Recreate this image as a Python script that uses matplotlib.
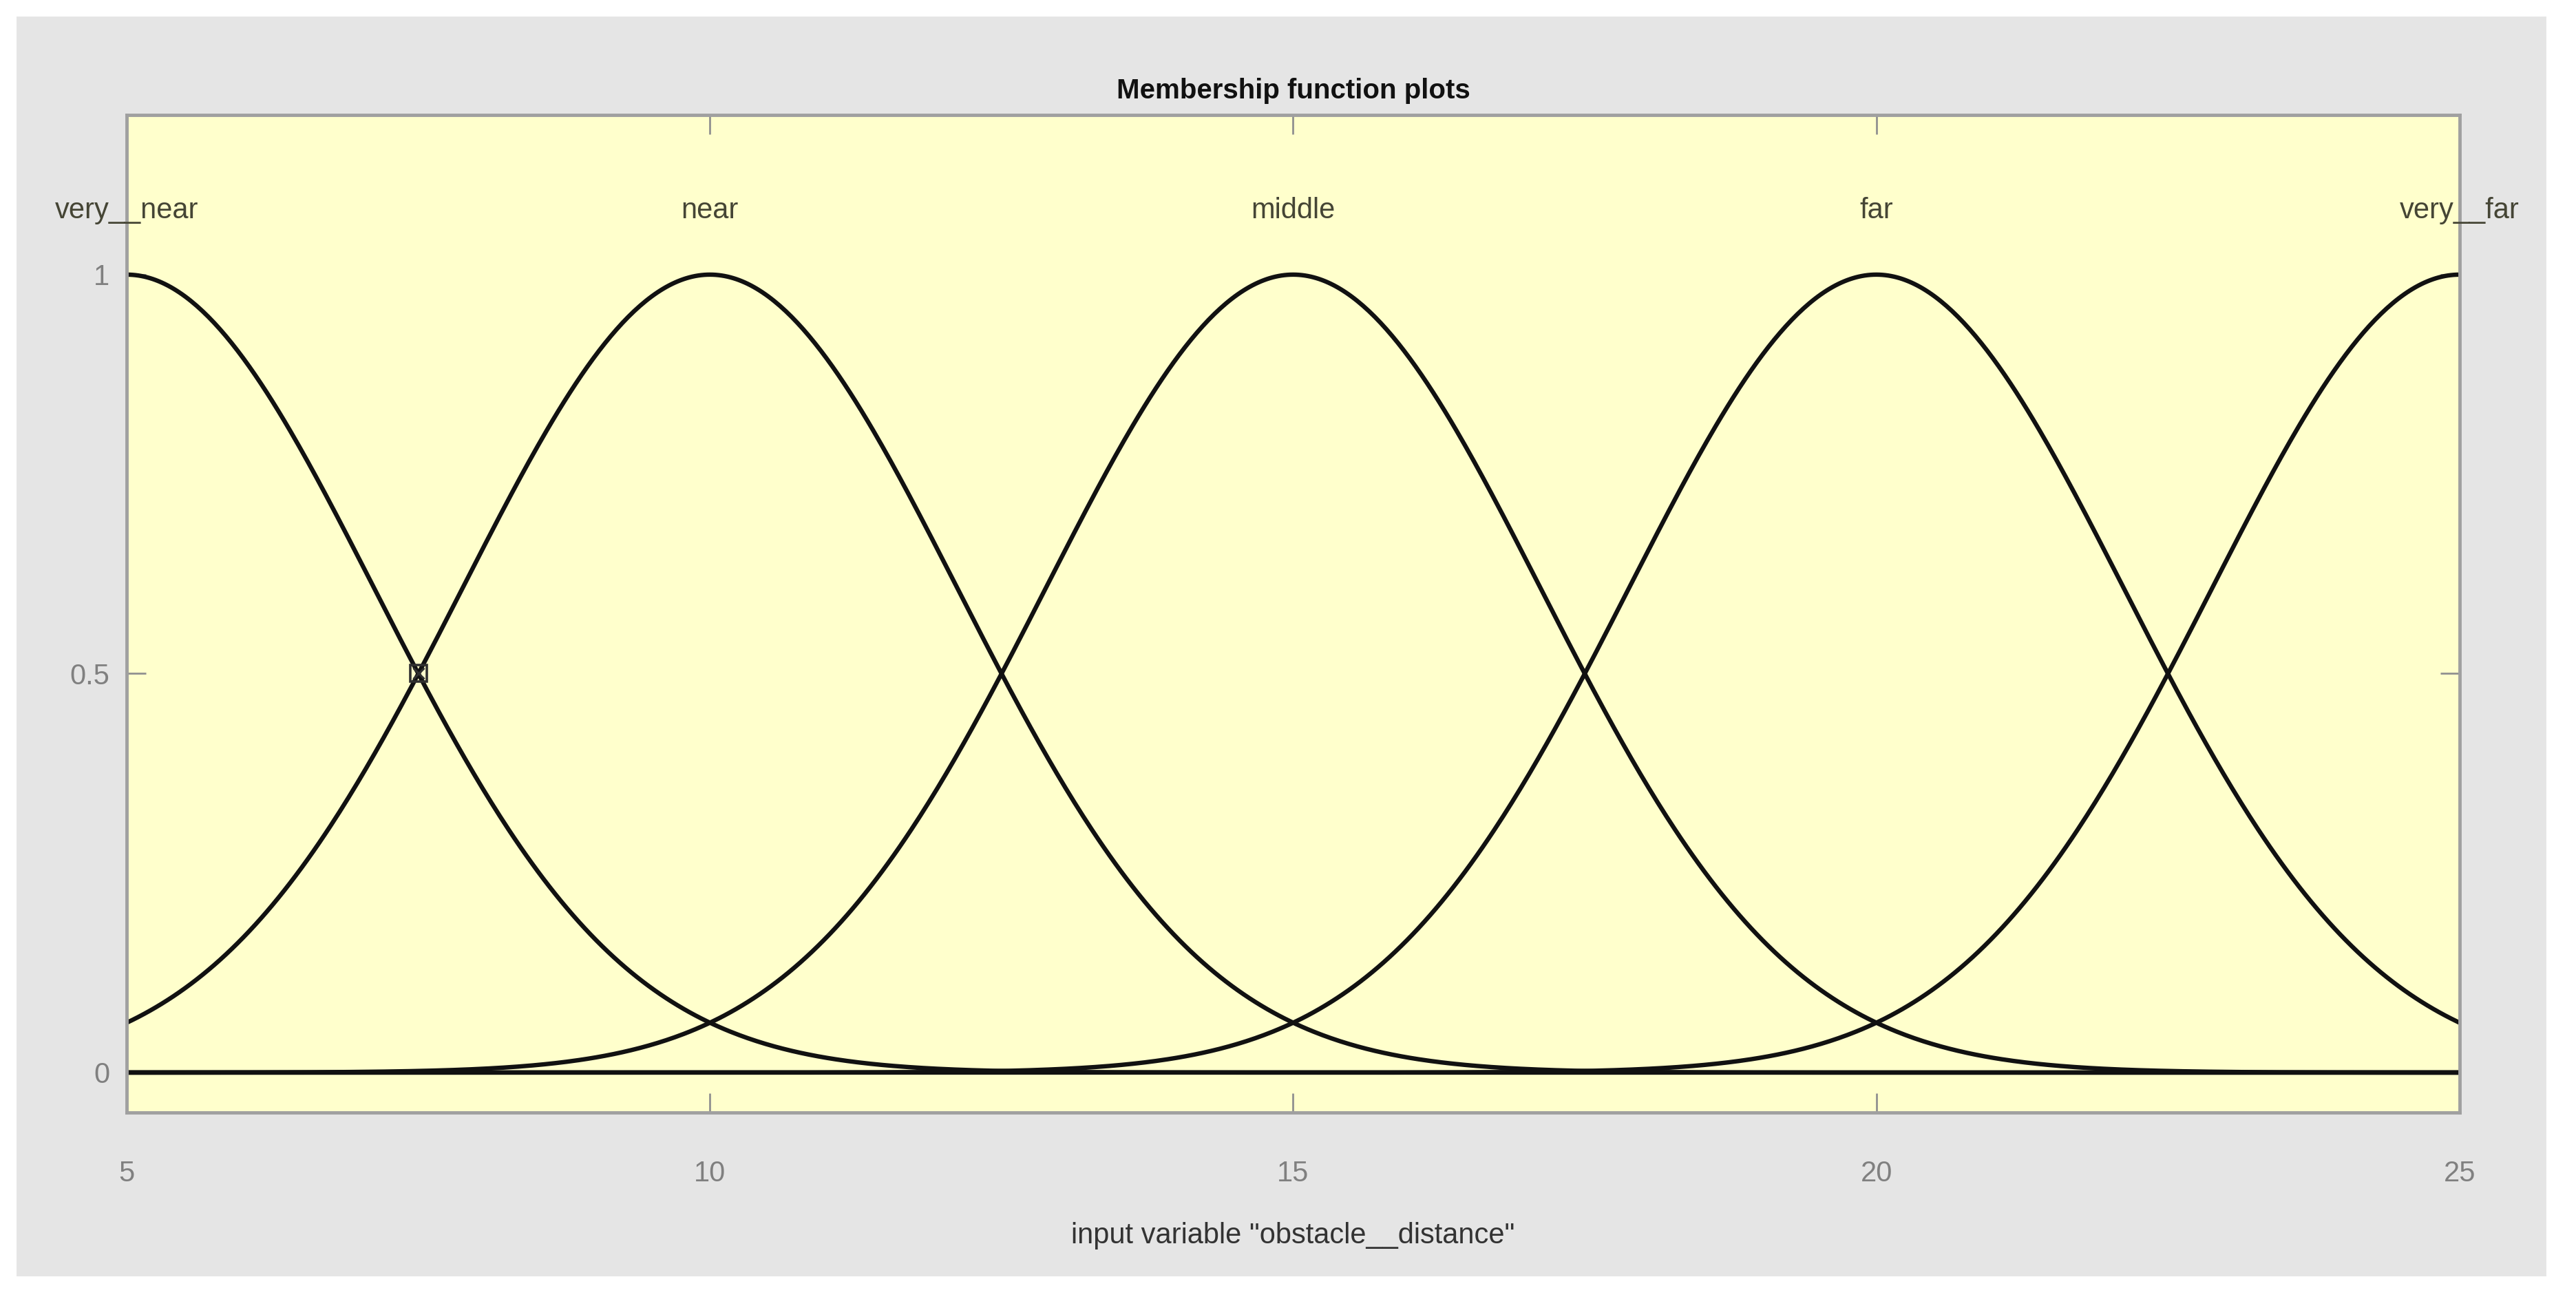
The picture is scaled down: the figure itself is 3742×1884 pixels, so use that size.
import numpy as np
import matplotlib
matplotlib.use("Agg")
import matplotlib.pyplot as plt
from matplotlib.patches import Rectangle

# membership functions (gaussmf): name, sigma, center
mf_names = ["very__near", "near", "middle", "far", "very__far"]
mf_centers = [5, 10, 15, 20, 25]
mf_sigmas = [2.123, 2.123, 2.123, 2.123, 2.123]

x_range = (5, 25)
x_ticks = [5, 10, 15, 20, 25]
y_ticks = [0, 0.5, 1]
y_ticklabels = ["0", "0.5", "1"]

# highlighted point (selected crossing)
sel_x = [7.5]
sel_y = [0.5]

plt.rcParams["font.family"] = ["Liberation Sans", "DejaVu Sans"]


def gaussmf(x, sigma, c):
    return np.exp(-(x - c) ** 2 / (2 * sigma ** 2))


fig = plt.figure(figsize=(37.42, 18.84), dpi=100, facecolor="white")
bg = Rectangle((0.0064, 0.016), 0.9821, 0.9713, transform=fig.transFigure,
               facecolor="#e5e5e5", edgecolor="none", zorder=-10)
fig.add_artist(bg)

ax = fig.add_axes([0.0492, 0.1423, 0.9056, 0.769])
ax.set_facecolor("#ffffcc")

xs = np.linspace(x_range[0], x_range[1], 801)
for name, c, s in zip(mf_names, mf_centers, mf_sigmas):
    ax.plot(xs, gaussmf(xs, s, c), color="#111111", lw=4.6, solid_capstyle="butt", clip_on=False)
    ax.text(c, 1.08, name, ha="center", va="center", fontsize=30, color="#454535", clip_on=False)

ax.plot(sel_x, sel_y, marker="s", ms=17, mfc="none", mec="#303030", mew=2.6, ls="none")
ax.plot(sel_x, sel_y, marker="x", ms=11, color="#303030", mew=2.2, ls="none")

ax.set_xlim(*x_range)
ax.set_ylim(-0.05, 1.2)
ax.set_xticks(x_ticks)
ax.set_yticks(y_ticks)
ax.set_yticklabels(y_ticklabels)

ax.tick_params(direction="in", length=20, width=2, color="#909090", labelcolor="#808080",
               labelsize=30, top=True, right=True)
ax.tick_params(axis="x", pad=50)
ax.tick_params(axis="y", pad=18)

for sp in ax.spines.values():
    sp.set_color("#a0a0a0")
    sp.set_linewidth(3.5)

ax.text(0.5, 1.024, "Membership function plots", transform=ax.transAxes, ha="center",
        va="center", fontsize=29, fontweight="bold", color="#111111")
ax.set_xlabel('input variable "obstacle__distance"', fontsize=30, color="#333333", labelpad=36)

fig.savefig("out.png", dpi=100, facecolor="white")
